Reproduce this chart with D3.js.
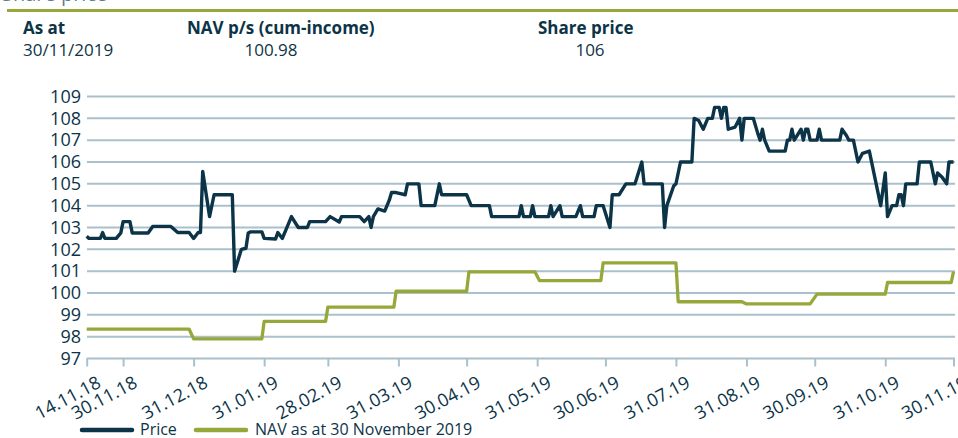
<!DOCTYPE html>
<html>
<head>
<meta charset="utf-8">
<script src="https://cdn.jsdelivr.net/npm/d3@7"></script>
<style>
  html, body { margin: 0; padding: 0; background: #fff; }
  svg { display: block; }
  text { font-family: "Open Sans", "Noto Sans", sans-serif; }
</style>
</head>
<body>
<svg id="chart" width="958" height="438"></svg>
<script>
// ---------- DATA ----------
const headerLabels = ["As at", "NAV p/s (cum-income)", "Share price"];
const headerValues = ["30/11/2019", "100.98", "106"];

const yTickValues = [97, 98, 99, 100, 101, 102, 103, 104, 105, 106, 107, 108, 109];

const xTickDates = ["2018-11-14", "2018-11-30", "2018-12-31", "2019-01-31", "2019-02-28", "2019-03-31",
  "2019-04-30", "2019-05-31", "2019-06-30", "2019-07-31", "2019-08-31", "2019-09-30", "2019-10-31", "2019-11-30"];
const xTickLabels = ["14.11.18", "30.11.18", "31.12.18", "31.01.19", "28.02.19", "31.03.19",
  "30.04.19", "31.05.19", "30.06.19", "31.07.19", "31.08.19", "30.09.19", "31.10.19", "30.11.19"];

const priceDates = [
  "2018-11-14", "2018-11-15", "2018-11-20", "2018-11-21", "2018-11-22", "2018-11-27", "2018-11-29", "2018-11-30",
  "2018-12-03", "2018-12-04", "2018-12-11", "2018-12-13", "2018-12-21", "2018-12-24", "2018-12-29", "2018-12-31",
  "2019-01-02", "2019-01-03", "2019-01-04", "2019-01-07", "2019-01-09", "2019-01-17", "2019-01-18", "2019-01-21",
  "2019-01-23", "2019-01-24", "2019-01-25", "2019-01-30", "2019-01-31", "2019-02-05", "2019-02-06", "2019-02-08",
  "2019-02-12", "2019-02-15", "2019-02-19", "2019-02-20", "2019-02-27", "2019-03-01", "2019-03-05", "2019-03-06",
  "2019-03-14", "2019-03-16", "2019-03-18", "2019-03-19", "2019-03-20", "2019-03-22", "2019-03-25", "2019-03-27",
  "2019-03-28", "2019-03-30", "2019-04-03", "2019-04-04", "2019-04-09", "2019-04-10", "2019-04-16", "2019-04-18",
  "2019-04-19", "2019-04-30", "2019-05-02", "2019-05-10", "2019-05-11", "2019-05-23", "2019-05-24", "2019-05-25",
  "2019-05-28", "2019-05-29", "2019-05-30", "2019-06-05", "2019-06-06", "2019-06-07", "2019-06-10", "2019-06-11",
  "2019-06-17", "2019-06-19", "2019-06-20", "2019-06-25", "2019-06-26", "2019-06-29", "2019-07-02", "2019-07-03",
  "2019-07-06", "2019-07-09", "2019-07-13", "2019-07-16", "2019-07-17", "2019-07-25", "2019-07-26", "2019-07-27",
  "2019-07-30", "2019-07-31", "2019-08-02", "2019-08-07", "2019-08-08", "2019-08-10", "2019-08-12", "2019-08-14",
  "2019-08-16", "2019-08-17", "2019-08-19", "2019-08-20", "2019-08-21", "2019-08-22", "2019-08-23", "2019-08-26",
  "2019-08-28", "2019-08-29", "2019-08-30", "2019-09-03", "2019-09-05", "2019-09-06", "2019-09-07", "2019-09-08",
  "2019-09-10", "2019-09-17", "2019-09-18", "2019-09-19", "2019-09-20", "2019-09-21", "2019-09-24", "2019-09-25",
  "2019-09-26", "2019-09-27", "2019-09-28", "2019-10-01", "2019-10-02", "2019-10-03", "2019-10-11", "2019-10-12",
  "2019-10-14", "2019-10-15", "2019-10-17", "2019-10-19", "2019-10-21", "2019-10-24", "2019-10-29", "2019-10-31",
  "2019-11-01", "2019-11-03", "2019-11-05", "2019-11-06", "2019-11-07", "2019-11-08", "2019-11-09", "2019-11-14",
  "2019-11-15", "2019-11-20", "2019-11-22", "2019-11-23", "2019-11-25", "2019-11-27", "2019-11-28", "2019-11-30"
];
const priceValues = [
  102.6, 102.5, 102.5, 102.77, 102.5, 102.5, 102.75, 103.27,
  103.27, 102.75, 102.75, 103.05, 103.05, 102.77, 102.77, 102.5,
  102.77, 102.77, 105.57, 103.5, 104.5, 104.5, 101.0, 102.0,
  102.05, 102.75, 102.8, 102.8, 102.5, 102.47, 102.77, 102.5,
  103.5, 103.0, 103.0, 103.27, 103.27, 103.5, 103.25, 103.5,
  103.5, 103.27, 103.5, 103.0, 103.5, 103.85, 103.75, 104.25,
  104.6, 104.6, 104.5, 105.0, 105.0, 104.0, 104.0, 105.0,
  104.5, 104.5, 104.0, 104.0, 103.5, 103.5, 104.0, 103.5,
  103.5, 104.0, 103.5, 103.5, 104.0, 103.5, 104.0, 103.5,
  103.5, 104.0, 103.5, 103.5, 104.0, 104.0, 103.0, 104.5,
  104.5, 105.0, 105.0, 106.0, 105.0, 105.0, 103.0, 104.0,
  104.9, 105.0, 106.0, 106.0, 108.0, 107.9, 107.5, 108.0,
  108.0, 108.5, 108.5, 108.0, 108.5, 108.5, 107.5, 107.6,
  108.0, 107.0, 108.0, 108.0, 107.3, 107.0, 107.5, 107.0,
  106.5, 106.5, 107.0, 107.0, 107.5, 107.0, 107.5, 107.0,
  107.5, 107.5, 107.0, 107.0, 107.5, 107.0, 107.0, 107.5,
  107.2, 107.0, 107.0, 106.0, 106.4, 106.5, 104.0, 105.5,
  103.5, 104.0, 104.0, 104.5, 104.5, 104.0, 105.0, 105.0,
  106.0, 106.0, 105.0, 105.5, 105.3, 105.0, 106.0, 106.0
];

const navDates = [
  "2018-11-14", "2018-12-29", "2018-12-31", "2019-01-30", "2019-01-31", "2019-02-27", "2019-02-28",
  "2019-03-29", "2019-03-30", "2019-04-30", "2019-05-01", "2019-05-30", "2019-06-01", "2019-06-28",
  "2019-06-29", "2019-07-31", "2019-08-01", "2019-08-29", "2019-08-31", "2019-09-28", "2019-10-01",
  "2019-10-31", "2019-11-01", "2019-11-29", "2019-11-30"
];
const navValues = [
  98.35, 98.35, 97.9, 97.9, 98.7, 98.7, 99.35,
  99.35, 100.08, 100.08, 100.97, 100.97, 100.57, 100.57,
  101.38, 101.38, 99.6, 99.6, 99.5, 99.5, 99.95,
  99.95, 100.48, 100.48, 100.98
];

const legendLabels = ["Price", "NAV as at 30 November 2019"];

// ---------- STYLE ----------
const NAVY = "#0c3448";
const GREEN = "#97a83a";
const GRID = "#aac0cc";

const parse = d3.timeParse("%Y-%m-%d");
const svg = d3.select("#chart");

const x = d3.scaleTime()
  .domain([parse("2018-11-14"), parse("2019-11-30")])
  .range([86.7, 953.5]);
const y = d3.scaleLinear()
  .domain([97, 109])
  .range([358.5, 96.5]);

// ---------- HEADER ----------
svg.append("text")
  .attr("x", 2).attr("y", 1)
  .attr("font-size", 20).attr("fill", "#5f7f8c")
  .text("Share price");
svg.append("line")
  .attr("x1", 7).attr("x2", 958).attr("y1", 10.5).attr("y2", 10.5)
  .attr("stroke", GREEN).attr("stroke-width", 3);

const headerX = [23, 187, 538];
const valueX = [23, 271, 590];
const valueAnchor = ["start", "middle", "middle"];
headerLabels.forEach((t, i) => {
  svg.append("text").attr("x", headerX[i]).attr("y", 34)
    .attr("font-size", 17).attr("font-weight", 700).attr("fill", NAVY).text(t);
  svg.append("text").attr("x", valueX[i]).attr("y", 56)
    .attr("text-anchor", valueAnchor[i])
    .attr("font-size", 17).attr("fill", NAVY).text(headerValues[i]);
});

// ---------- GRID ----------
svg.append("g").selectAll("line")
  .data(yTickValues.slice(1))
  .join("line")
  .attr("x1", 87).attr("x2", 955)
  .attr("y1", d => y(d)).attr("y2", d => y(d))
  .attr("stroke", GRID).attr("stroke-width", 2);

// ---------- Y AXIS ----------
const yAxis = svg.append("g")
  .attr("transform", "translate(87,0)")
  .call(d3.axisLeft(y).tickValues(yTickValues).tickSize(0).tickPadding(6).tickFormat(d3.format("d")));
yAxis.select(".domain").remove();
yAxis.selectAll("text")
  .attr("font-family", "'Open Sans', sans-serif")
  .attr("font-size", 18).attr("fill", NAVY);

// ---------- X AXIS ----------
const tickDates = xTickDates.map(parse);
const xAxis = svg.append("g")
  .attr("transform", `translate(0,${y(97)})`)
  .call(d3.axisBottom(x).tickValues(tickDates).tickSize(8)
    .tickFormat((d, i) => xTickLabels[i]));
xAxis.select(".domain").attr("stroke", GRID).attr("stroke-width", 2)
  .attr("d", `M${x.range()[0]},0H955`);
xAxis.selectAll(".tick line").attr("stroke", GRID).attr("stroke-width", 2);
xAxis.selectAll(".tick text")
  .attr("font-family", "'Open Sans', sans-serif")
  .attr("font-size", 18).attr("fill", NAVY)
  .attr("text-anchor", "end")
  .attr("dy", null)
  .attr("y", null)
  .attr("transform", "translate(15,28) rotate(-28)");

// ---------- LINES ----------
const navData = navDates.map((d, i) => ({ date: parse(d), value: navValues[i] }));
const priceData = priceDates.map((d, i) => ({ date: parse(d), value: priceValues[i] }));

const line = d3.line().x(d => x(d.date)).y(d => y(d.value));

svg.append("path").datum(navData)
  .attr("d", line).attr("fill", "none")
  .attr("stroke", GREEN).attr("stroke-width", 3.3)
  .attr("stroke-linejoin", "round");

svg.append("path").datum(priceData)
  .attr("d", line).attr("fill", "none")
  .attr("stroke", NAVY).attr("stroke-width", 3.4)
  .attr("stroke-linejoin", "round");

// ---------- LEGEND ----------
const legendColors = [NAVY, GREEN];
const legendLineX = [82, 196];
const legendTextX = [140, 255];
legendLabels.forEach((t, i) => {
  svg.append("line")
    .attr("x1", legendLineX[i]).attr("x2", legendLineX[i] + 50)
    .attr("y1", 430).attr("y2", 430)
    .attr("stroke", legendColors[i]).attr("stroke-width", 4.5)
    .attr("stroke-linecap", "round");
  svg.append("text")
    .attr("x", legendTextX[i]).attr("y", 435)
    .attr("font-size", 16).attr("fill", NAVY).text(t);
});
</script>
</body>
</html>
